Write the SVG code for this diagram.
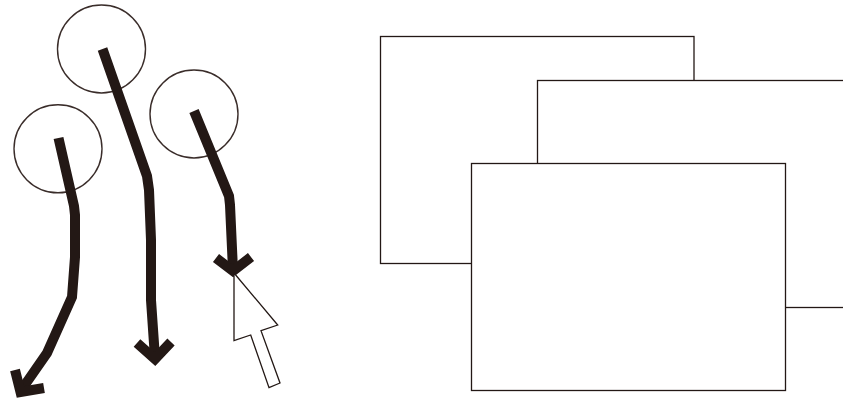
<svg xmlns="http://www.w3.org/2000/svg" width="843" height="400" viewBox="0 0 843 400">
<style>
.c{fill:none;stroke:#3a2d2a;stroke-width:1.4}
.s{fill:none;stroke:#231815;stroke-width:10;stroke-miterlimit:10}
.r{fill:#fff;stroke:#231815;stroke-width:1.3}
.p{fill:#fff;stroke:#231815;stroke-width:1.3}
</style>
<g id="circles">
<circle class="c" cx="58" cy="148.800" r="44"/>
<circle class="c" cx="101.500" cy="49" r="44"/>
<circle class="c" cx="194" cy="114" r="44"/>
</g>
<g id="strokes">
<path class="s" d="M58.500 138L74 206L75 215L75 257L72 297L47 353L22 389"/>
<path class="s" d="M15 370L20.500 392L44 388"/>
<path class="s" d="M102.500 49L147 176L149 190L151 240L151 300L155 358"/>
<path class="s" d="M137 343L155 359L171 342"/>
<path class="s" d="M194 111L229 196L230 205L233 270"/>
<path class="s" d="M216 258L233 271L251 257"/>
</g>
<g id="cursor">
<path class="p" d="M234 273L277.700 325L261 330.700L280 383L269 387.700L250.700 335L234 340.700Z"/>
</g>
<g id="windows">
<rect class="r" x="380.500" y="36.500" width="313.500" height="227"/>
<rect class="r" x="537.500" y="80.500" width="320" height="227"/>
<rect class="r" x="471.500" y="163.500" width="314" height="227"/>
</g>
</svg>
